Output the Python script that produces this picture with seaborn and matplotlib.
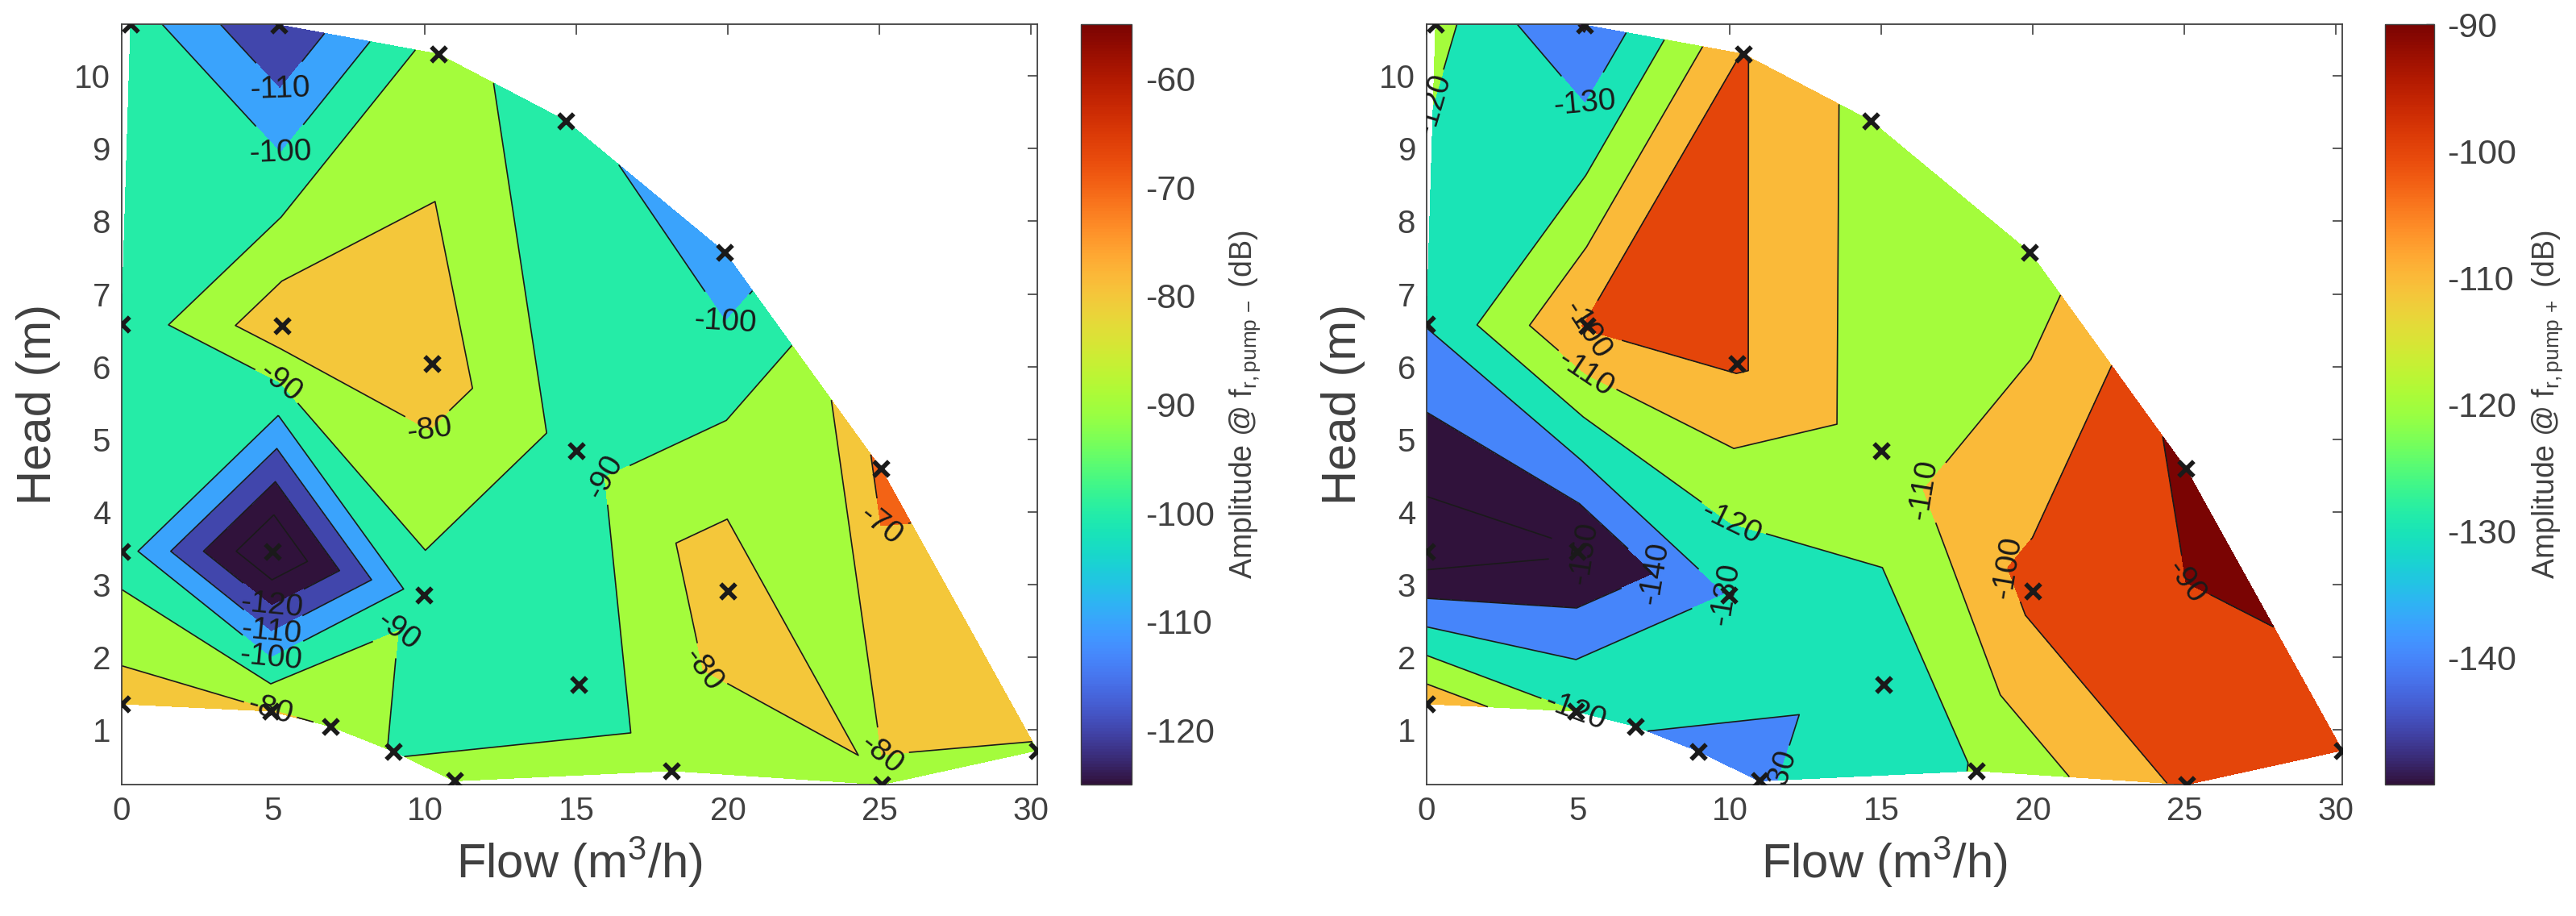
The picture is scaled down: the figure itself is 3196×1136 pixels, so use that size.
import numpy as np
import pandas as pd
import matplotlib
matplotlib.use("Agg")
import matplotlib.pyplot as plt
import matplotlib.colors as mcolors
import matplotlib.cm as cm
import seaborn as sns

# Operating points along the four pump curves (flow in m3/h, head in m)
flow_c1 = [0.3, 5.2, 10.44, 14.65, 19.9, 25.04, 30.2]
head_c1 = [10.71, 10.7, 10.3, 9.38, 7.57, 4.6, 0.72]
flow_c2 = [0.0, 5.3, 10.23, 15.0, 20.0, 25.07]
head_c2 = [6.58, 6.56, 6.04, 4.84, 2.91, 0.25]
flow_c3 = [0.0, 4.97, 9.97, 15.07, 18.14]
head_c3 = [3.46, 3.46, 2.86, 1.63, 0.44]
flow_c4 = [0.0, 4.91, 6.9, 8.96, 10.98]
head_c4 = [1.36, 1.26, 1.05, 0.71, 0.3]

# Amplitude at f_r,pump- (dB)
amp_minus_c1 = [-94.6, -120.0, -85.0, -96.5, -107.0, -67.5, -80.4]
amp_minus_c2 = [-97.0, -73.0, -74.5, -94.0, -72.7, -81.3]
amp_minus_c3 = [-95.0, -141.0, -93.7, -90.9, -89.3]
amp_minus_c4 = [-75.0, -79.5, -80.2, -91.0, -85.5]

# Amplitude at f_r,pump+ (dB)
amp_plus_c1 = [-116.5, -141.0, -99.4, -113.5, -116.0, -85.5, -93.5]
amp_plus_c2 = [-129.6, -99.0, -98.7, -115.0, -97.0, -98.0]
amp_plus_c3 = [-156.5, -151.0, -129.5, -125.0, -119.5]
amp_plus_c4 = [-103.0, -120.0, -128.6, -136.0, -131.0]

sns.set_theme(style="white")
plt.rcParams["font.family"] = ["Liberation Sans", "DejaVu Sans"]
plt.rcParams["mathtext.fontset"] = "custom"
plt.rcParams["mathtext.rm"] = "Liberation Sans"
plt.rcParams["mathtext.it"] = "Liberation Sans:italic"
plt.rcParams["axes.unicode_minus"] = False
plt.rcParams["contour.negative_linestyle"] = "solid"


def grid(rows):
    # curves have different lengths: repeat the last point so they form a structured grid
    n = max(len(r) for r in rows)
    return np.array([list(r) + [r[-1]] * (n - len(r)) for r in rows], dtype=float)


flow = grid([flow_c1, flow_c2, flow_c3, flow_c4])
head = grid([head_c1, head_c2, head_c3, head_c4])

pts = pd.DataFrame({
    "flow": flow_c1 + flow_c2 + flow_c3 + flow_c4,
    "head": head_c1 + head_c2 + head_c3 + head_c4,
})

cmap = plt.get_cmap("turbo")
grey = "0.25"


def panel(ax, cax, z, fill_levels, line_levels, vmin, vmax, label):
    norm = mcolors.Normalize(vmin=vmin, vmax=vmax, clip=True)
    # MATLAB style: each band takes the colour of its lower level
    band_cols = [cmap(norm(v)) for v in fill_levels[:-1]]
    ax.contourf(flow, head, z, levels=fill_levels, colors=band_cols)
    cs = ax.contour(flow, head, z, levels=line_levels, colors="k",
                    linewidths=1.2, linestyles="solid")
    ax.clabel(cs, fmt="%d", fontsize=28, inline=True, inline_spacing=6)
    sns.scatterplot(data=pts, x="flow", y="head", marker="x", color="k",
                    s=180, linewidth=4, ax=ax, legend=False, zorder=5)

    ax.set_xlim(0, pts["flow"].max())
    ax.set_ylim(pts["head"].min(), pts["head"].max())
    ax.set_xticks(range(0, 31, 5))
    ax.set_yticks(range(1, 11))
    ax.tick_params(direction="in", top=True, right=True, length=9, width=1.2,
                   labelsize=29, labelcolor=grey, color=grey, pad=10)
    for sp in ax.spines.values():
        sp.set_color(grey)
        sp.set_linewidth(1.3)
    ax.set_xlabel("Flow (m$^3$/h)", fontsize=43, color=grey, labelpad=8)
    ax.set_ylabel("Head (m)", fontsize=43, color=grey, labelpad=12)

    cb = plt.colorbar(cm.ScalarMappable(norm=norm, cmap=cmap), cax=cax)
    cb.set_ticks(np.arange(vmax - 5 if (vmax % 10) else vmax, vmin, -10))
    cb.ax.tick_params(direction="in", length=7, width=1, labelsize=31,
                      labelcolor=grey, color=grey, pad=12)
    cb.outline.set_edgecolor(grey)
    cb.outline.set_linewidth(1)
    cb.set_label(label, fontsize=27, color=grey, labelpad=12)


fig = plt.figure(figsize=(31.96, 11.36), dpi=100)
ax1 = fig.add_axes([0.0472, 0.1435, 0.3554, 0.830])
cax1 = fig.add_axes([0.4196, 0.1435, 0.0197, 0.830])
ax2 = fig.add_axes([0.5538, 0.1435, 0.3554, 0.830])
cax2 = fig.add_axes([0.9258, 0.1435, 0.0191, 0.830])

panel(ax1, cax1, grid([amp_minus_c1, amp_minus_c2, amp_minus_c3, amp_minus_c4]),
      [-160, -130, -120, -110, -100, -90, -80, -70, -60],
      [-130, -120, -110, -100, -90, -80, -70],
      -125, -55, r"Amplitude @ f$_{\mathrm{r,pump\,-}}$ (dB)")
panel(ax2, cax2, grid([amp_plus_c1, amp_plus_c2, amp_plus_c3, amp_plus_c4]),
      [-170, -150, -140, -130, -120, -110, -100, -90, -80],
      [-150, -140, -130, -120, -110, -100, -90],
      -150, -90, r"Amplitude @ f$_{\mathrm{r,pump\,+}}$ (dB)")

fig.savefig("out.png", dpi=100)
